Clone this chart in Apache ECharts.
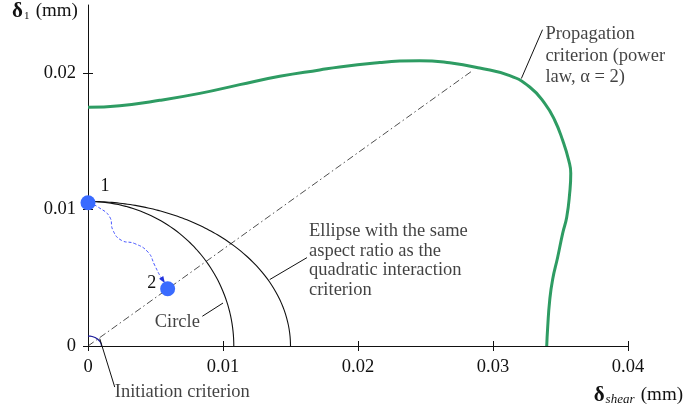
<!DOCTYPE html>
<html><head><meta charset="utf-8">
<script src="https://cdn.jsdelivr.net/npm/echarts@6/dist/echarts.min.js"></script>
<style>html,body{margin:0;padding:0;background:#fff}#chart{width:684px;height:414px}</style>
</head><body><div id="chart"></div>
<script>
// Axis ticks (mm)
const xTicks = [0, 0.01, 0.02, 0.03, 0.04];
const yTicks = [0, 0.01, 0.02];

// Propagation criterion envelope (power law, alpha = 2)
const propShear  = [0, 0.00235, 0.00531, 0.00828, 0.01124, 0.01420, 0.01716, 0.01864, 0.02161, 0.02309, 0.02457, 0.02679, 0.02901, 0.03124, 0.03272, 0.03383, 0.03457, 0.03516, 0.03561, 0.03576, 0.03568, 0.03546, 0.03516, 0.03479, 0.03442, 0.03420, 0.03405, 0.03398];
const propNormal = [0.0175, 0.01762, 0.01801, 0.01852, 0.01916, 0.01977, 0.02024, 0.02046, 0.02078, 0.02089, 0.02092, 0.02076, 0.02038, 0.01982, 0.01899, 0.01779, 0.01655, 0.01508, 0.01361, 0.01266, 0.01120, 0.00944, 0.00826, 0.00651, 0.00490, 0.00335, 0.00137, 0];

// Quarter curves given by their semi-axes [shear, normal]
const initiationAxes = [0.00100, 0.00073];
const circleAxes     = [0.0108, 0.0106];
const ellipseAxes    = [0.0150, 0.0106];

// Proportional loading ray from the origin to the envelope
const rayShear  = [0, 0.0285];
const rayNormal = [0, 0.0202];

// States 1 and 2
const stateNames  = ['1', '2'];
const stateShear  = [0, 0.0059];
const stateNormal = [0.0105, 0.0042];

// Transition path from state 1 to state 2
const pathShear  = [0.0001, 0.00074, 0.00161, 0.00185, 0.00247, 0.00346, 0.00444, 0.00494, 0.00531, 0.00556];
const pathNormal = [0.0105, 0.01019, 0.00946, 0.00848, 0.00775, 0.00751, 0.00689, 0.00592, 0.00519, 0.00482];

const FONT = 'Liberation Serif';
const INK = '#111';

function quarter(ax, n) {
  const pts = [];
  for (let i = 0; i <= n; i++) {
    const t = i / n * Math.PI / 2;
    pts.push([ax[0] * Math.sin(t), ax[1] * Math.cos(t)]);
  }
  return pts;
}
const zip = (a, b) => a.map((v, i) => [v, b[i]]);

// leader lines: [from, to] in data units
const leaders = [
  [[0.00847, 0.00218], [0.0100, 0.00315]],
  [[0.01346, 0.00487], [0.01622, 0.00648]],
  [[0.03210, 0.01961], [0.03367, 0.02319]],
  [[0.00087, 0.00054], [0.00198, -0.00301]]
];
const notes = [
  { at: [0.00494, 0.00176], text: 'Circle', v: 'middle', lh: 20 },
  { at: [0.01637, 0.00912], text: 'Ellipse with the same\naspect ratio as the\nquadratic interaction\ncriterion', v: 'top', lh: 19.5 },
  { at: [0.03388, 0.02365], text: 'Propagation\ncriterion (power\nlaw, α = 2)', v: 'top', lh: 21.5 },
  { at: [0.00198, -0.00337], text: 'Initiation criterion', v: 'middle', lh: 20 }
];

const axisCommon = {
  type: 'value',
  axisLine: { show: true, lineStyle: { color: INK, width: 1 } },
  splitLine: { show: false }
};

const chart = echarts.init(document.getElementById('chart'), null, { renderer: 'canvas' });

const series = [
  {
    type: 'line', data: zip(rayShear, rayNormal), symbol: 'none', silent: true,
    lineStyle: { color: '#222', width: 0.8, type: [7, 3, 1.5, 3] }, z: 2
  },
  {
    type: 'line', data: quarter(initiationAxes, 40), symbol: 'none', clip: false,
    lineStyle: { color: '#1a1a9a', width: 1.2 }, z: 3
  },
  {
    type: 'line', data: quarter(circleAxes, 120), symbol: 'none',
    lineStyle: { color: INK, width: 1.1 }, z: 3
  },
  {
    type: 'line', data: quarter(ellipseAxes, 120), symbol: 'none',
    lineStyle: { color: INK, width: 1.1 }, z: 3
  },
  {
    type: 'line', data: zip(propShear, propNormal), symbol: 'none', smooth: 0.5,
    lineStyle: { color: '#2e9c63', width: 3 }, z: 4
  },
  {
    type: 'line', symbol: 'none', smooth: 0.5, showAllSymbol: true,
    data: zip(pathShear, pathNormal).map((p, i, arr) => i === arr.length - 1
      ? { value: p, symbol: 'triangle', symbolSize: [5, 7], symbolRotate: 213, itemStyle: { color: '#2233dd' } }
      : { value: p }),
    lineStyle: { color: '#3344ff', width: 0.9, type: [3, 2] }, z: 5
  },
  {
    type: 'scatter', symbolSize: 15, itemStyle: { color: '#3a6bff', opacity: 1 }, z: 6,
    data: stateNames.map((n, i) => ({
      value: [stateShear[i], stateNormal[i]], name: n,
      label: {
        show: true, formatter: n, fontFamily: FONT, fontSize: 18, color: INK,
        position: i === 0 ? [20, -18] : [-13, -7]
      }
    }))
  }
];

leaders.forEach(l => series.push({
  type: 'line', data: l, symbol: 'none', clip: false, silent: true,
  lineStyle: { color: INK, width: 1 }, z: 3
}));

series.push({
  type: 'scatter', symbolSize: 0, clip: false, silent: true, z: 7,
  data: notes.map(n => ({
    value: n.at,
    label: {
      show: true, position: 'inside', formatter: n.text, align: 'left',
      verticalAlign: n.v, lineHeight: n.lh, fontFamily: FONT, fontSize: 18.5, color: INK
    }
  }))
});

chart.setOption({
  animation: false,
  backgroundColor: '#fff',
  grid: { left: 88, right: 56, top: 5, bottom: 68 },
  xAxis: [
    Object.assign({}, axisCommon, {
      position: 'bottom', min: 0, max: 0.04, interval: 0.01,
      axisTick: { show: true, length: 5, lineStyle: { color: INK }, customValues: xTicks },
      axisLabel: { fontFamily: FONT, fontSize: 18.5, color: INK, margin: 12, customValues: xTicks,
        formatter: v => String(v) }
    }),
    Object.assign({}, axisCommon, {
      position: 'bottom', min: 0, max: 0.04, interval: 0.01,
      axisLine: { show: false },
      axisTick: { show: true, inside: true, length: 5, lineStyle: { color: INK }, customValues: xTicks },
      axisLabel: { show: false }
    })
  ],
  yAxis: [
    Object.assign({}, axisCommon, {
      position: 'left', min: 0, max: 0.025, interval: 0.01,
      axisTick: { show: true, length: 5, lineStyle: { color: INK }, customValues: yTicks },
      axisLabel: { fontFamily: FONT, fontSize: 18.5, color: INK, margin: 12, customValues: yTicks,
        formatter: v => String(v) }
    }),
    Object.assign({}, axisCommon, {
      position: 'left', min: 0, max: 0.025, interval: 0.01,
      axisLine: { show: false },
      axisTick: { show: true, inside: true, length: 5, lineStyle: { color: INK }, customValues: yTicks },
      axisLabel: { show: false }
    })
  ],
  graphic: [
    {
      type: 'text', left: 12, top: 1,
      style: {
        text: '{d|δ}{s|1} {u|(mm)}', fill: INK,
        rich: {
          d: { fontFamily: FONT, fontSize: 21, fontWeight: 'bold', fill: INK },
          s: { fontFamily: FONT, fontSize: 11, fill: INK, padding: [9, 3, 0, 1] },
          u: { fontFamily: FONT, fontSize: 19, fill: INK }
        }
      }
    },
    {
      type: 'text', right: 1, top: 385,
      style: {
        text: '{d|δ}{s|shear} {u|(mm)}', fill: INK,
        rich: {
          d: { fontFamily: FONT, fontSize: 21, fontWeight: 'bold', fill: INK },
          s: { fontFamily: FONT, fontSize: 13, fontStyle: 'italic', fill: INK, padding: [9, 3, 0, 1] },
          u: { fontFamily: FONT, fontSize: 19, fill: INK }
        }
      }
    }
  ],
  series: series
});
</script></body></html>
